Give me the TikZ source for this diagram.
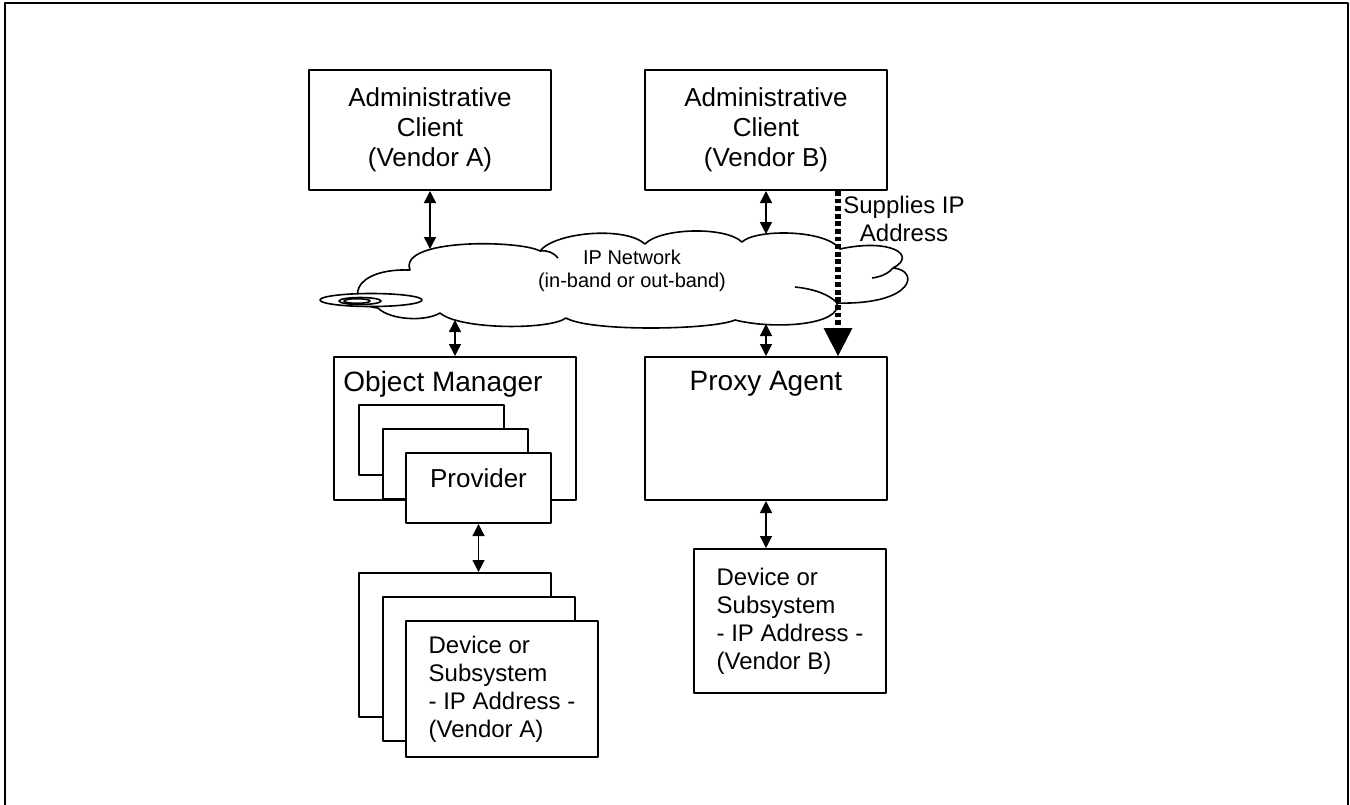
\documentclass[tikz,border=0pt]{standalone}
\usepackage{fontspec}
\setmainfont{Liberation Sans}
\usetikzlibrary{arrows.meta,calc,positioning}
\begin{document}
\begin{tikzpicture}[x=0.5pt, y=-0.5pt, line join=round,
	clientbox/.style={draw, line width=1pt, fill=white, inner sep=0pt, minimum width=121pt, minimum height=60pt, align=center, font=\fontsize{13}{15}\selectfont},
	mgrbox/.style={draw, line width=1pt, fill=white, inner sep=0pt, minimum width=121pt, minimum height=71.5pt},
	stackbox/.style={draw, line width=1pt, fill=white, inner sep=0pt, minimum width=72.5pt, minimum height=35pt, font=\fontsize{13}{15}\selectfont},
	devbox/.style={draw, line width=1pt, fill=white, inner sep=0pt, minimum width=96pt, minimum height=72pt, align=left, font=\fontsize{12}{14}\selectfont},
	bigtxt/.style={inner sep=0pt, font=\fontsize{14}{16}\selectfont},
	txt/.style={inner sep=0pt, align=center, font=\fontsize{12}{14}\selectfont},
	cloudline/.style={line width=0.8pt},
	dbl/.style={line width=0.75pt, {Triangle[length=6pt,width=6pt]}-{Triangle[length=6pt,width=6pt]}},
	supply/.style={line width=2.6pt, dash pattern=on 2.4pt off 1.4pt, -{Triangle[length=14pt,width=14.5pt,line width=0pt]}}]
	\useasboundingbox (0,0) rectangle (1350,804);
	\draw[line width=1.3pt] (5,3) rectangle (1348,812);
	
	\node[clientbox] (adminA) at (430,130) {Administrative\\Client\\(Vendor A)};
	\node[clientbox] (adminB) at (766,130) {Administrative\\Client\\(Vendor B)};
	
	\draw[cloudline, fill=white] (378,308)
		.. controls (345,305) and (350,268) .. (410,270)
		.. controls (398,238) and (520,240) .. (540,251)
		.. controls (555,232) and (625,226) .. (645,244)
		.. controls (660,228) and (725,226) .. (742,242)
		.. controls (755,229) and (825,229) .. (840,249)
		.. controls (890,238) and (918,255) .. (893,268)
		.. controls (920,270) and (915,305) .. (837,303)
		.. controls (842,325) and (775,330) .. (735,320)
		.. controls (712,330) and (590,332) .. (566,318)
		.. controls (550,330) and (460,330) .. (440,313)
		.. controls (425,322) and (390,320) .. cycle;
	\draw[cloudline] (540,251) .. controls (548,250) and (554,253) .. (558,258);
	\draw[cloudline] (893,268) .. controls (888,274) and (880,277) .. (872,278);
	\draw[cloudline] (795,287) .. controls (815,289) and (830,295) .. (837,303);
	\draw[cloudline, fill=white] (371,300) ellipse [x radius=51, y radius=6.5];
	\draw[cloudline] (360,301) ellipse [x radius=21, y radius=3.5];
	\draw[cloudline] (357,301) ellipse [x radius=13, y radius=2.3];
	\node[inner sep=0pt, align=center, font=\fontsize{10}{11.5}\selectfont] (net) at (632,271) {IP Network\\(in-band or out-band)};
	\coordinate (netA) at (430,249);
	\coordinate (netB) at (766,234);
	\coordinate (netOM) at (455,320);
	\coordinate (netPA) at (766,324);
	
	\node[mgrbox] (om) at (455,428.5) {};
	\node[bigtxt, anchor=north west] (omT) at ([shift={(10,15)}]om.north west) {Object Manager};
	\foreach \n/\x/\y in {omS1/431.5/440, omS2/455/464} {
		\node[stackbox] (\n) at (\x,\y) {};
	}
	\node[stackbox, text height=9.5pt, text depth=10.5pt] (prov) at (478.5,488) {Provider};
	
	\foreach \n/\x/\y in {devA1/455/645, devA2/479/669} {
		\node[devbox] (\n) at (\x,\y) {};
	}
	\node[devbox, minimum height=68pt] (devA) at (502,689) {Device or\\Subsystem\\- IP Address -\\(Vendor A)};
	
	\node[mgrbox] (proxy) at (766,428.5) {};
	\node[bigtxt, anchor=north] (proxyT) at ([shift={(0,15)}]proxy.north) {Proxy Agent};
	\node[devbox] (devB) at (790,621) {Device or\\Subsystem\\- IP Address -\\(Vendor B)};
	
	\node[txt] (sup) at (904,219) {Supplies IP\\Address};
	
	\draw[dbl] (adminA.south) -- (netA);
	\draw[dbl] (adminB.south) -- (netB);
	\draw[dbl] (netOM) -- (om.north);
	\draw[dbl] (netPA) -- (proxy.north);
	\draw[dbl] (prov.south) -- (prov.south |- devA1.north);
	\draw[dbl] (proxy.south) -- (proxy.south |- devB.north);
	\draw[supply] ($(adminB.south)+(72,0)$) -- ($(proxy.north)+(72,0)$);
\end{tikzpicture}
\end{document}
